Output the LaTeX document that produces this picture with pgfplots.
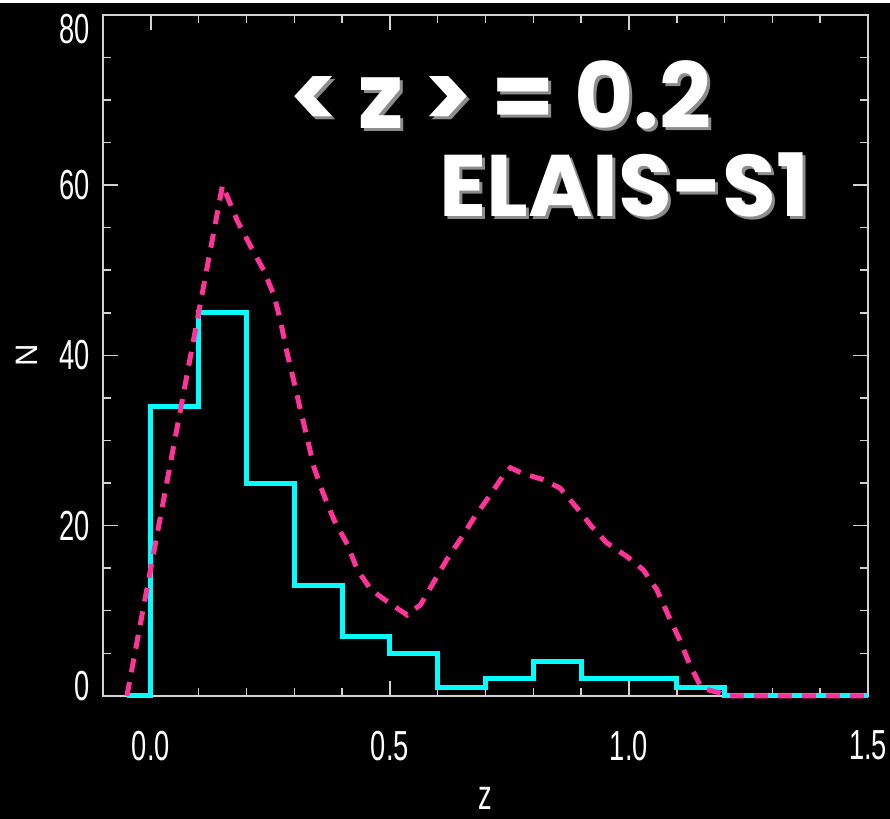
\documentclass[border=0pt]{standalone}
\usepackage{pgfplots}
\pgfplotsset{compat=1.18}
\usepackage{fontspec}
\setmainfont{Liberation Sans}
\newfontfamily\tickfont{Liberation Sans}[FakeStretch=0.65]
\newfontfamily\annfont{Poppins}
\definecolor{cyanl}{RGB}{0,255,255}
\definecolor{pinkd}{RGB}{255,51,153}
\definecolor{axgray}{RGB}{210,210,210}
\definecolor{shadowgray}{RGB}{140,140,140}
\newcommand{\lineone}{\annfont\bfseries\fontsize{60}{60}\selectfont <\ z\ >\ =\ 0.2}
\newcommand{\linetwo}{\annfont\bfseries\fontsize{60}{60}\selectfont ELAIS-S1}
\begin{document}
\begin{tikzpicture}
\fill[black] (-103pt,-123pt) rectangle (787pt,693pt);
\begin{axis}[
  at={(0pt,0pt)}, anchor=south west,
  scale only axis, width=765pt, height=681pt,
  xmin=-0.1, xmax=1.5, ymin=0, ymax=80,
  clip=false,
  axis line style={draw=axgray, line width=1.5pt},
  xtick={0,0.5,1,1.5}, xticklabels={0.0,0.5,1.0,1.5},
  ytick={0,20,40,60,80},
  yticklabels={{\raisebox{10pt}[\height][\depth]{0}},20,40,60,{\raisebox{-14pt}[\height][\depth]{80}}},
  minor x tick num=4, minor y tick num=3,
  major tick length=15pt, minor tick length=8pt,
  every tick/.style={draw=axgray, line width=1.5pt},
  tick align=inside,
  ticklabel style={font=\tickfont\fontsize{42}{42}\selectfont, text=white, inner sep=0pt},
  yticklabel style={anchor=east, xshift=-13pt},
  xticklabel style={anchor=north, yshift=-35pt},
  xlabel={z}, ylabel={N},
  xlabel style={at={(axis description cs:0.5,-0.151)}, anchor=center, font=\tickfont\fontsize{42}{42}\selectfont, text=white},
  ylabel style={at={(axis description cs:-0.0993,0.5)}, anchor=center, font=\fontsize{31}{31}\selectfont, text=white},
]
\addplot[cyanl, line width=5pt, const plot] coordinates {
(-0.05,0) (0,34) (0.1,45) (0.2,25) (0.3,13) (0.4,7) (0.5,5) (0.6,1) (0.7,2) (0.8,4) (0.9,2) (1.0,2) (1.1,1) (1.2,0) (1.5,0)
};
\addplot[pinkd, line width=5pt, dash pattern=on 14pt off 10pt] coordinates {
(-0.05,0) (0.15,60) (0.181,55.8) (0.209,52.8) (0.237,49.9) (0.258,47) (0.271,44.1) (0.285,40.3) (0.299,37) (0.313,33.6) (0.327,30.3) (0.341,26.9) (0.359,24) (0.383,20.7) (0.411,17.8) (0.432,14.8) (0.46,12.5) (0.494,11.1) (0.536,9.5) (0.564,10.7) (0.591,13.3) (0.619,16) (0.651,18.7) (0.678,21.1) (0.71,23.6) (0.741,26.2) (0.752,26.8) (0.779,26.1) (0.821,25.4) (0.856,24.4) (0.891,22.1) (0.922,19.9) (0.953,18) (0.995,16.4) (1.03,14.8) (1.058,12.5) (1.082,9.5) (1.106,6.6) (1.127,3.7) (1.152,0.9) (1.19,0.35) (1.2,0) (1.5,0)
};
\node[anchor=base east, text=shadowgray, inner sep=0pt] at ([xshift=3pt,yshift=-3pt]axis cs:1.173,66.7) {\resizebox{422pt}{!}{\lineone}};
\node[anchor=base east, text=white, inner sep=0pt] at (axis cs:1.173,66.7) {\resizebox{422pt}{!}{\lineone}};
\node[anchor=base east, text=shadowgray, inner sep=0pt] at ([xshift=3pt,yshift=-3pt]axis cs:1.378,56.3) {\resizebox{370pt}{!}{\linetwo}};
\node[anchor=base east, text=white, inner sep=0pt] at (axis cs:1.378,56.3) {\resizebox{370pt}{!}{\linetwo}};
\end{axis}
\end{tikzpicture}
\end{document}
